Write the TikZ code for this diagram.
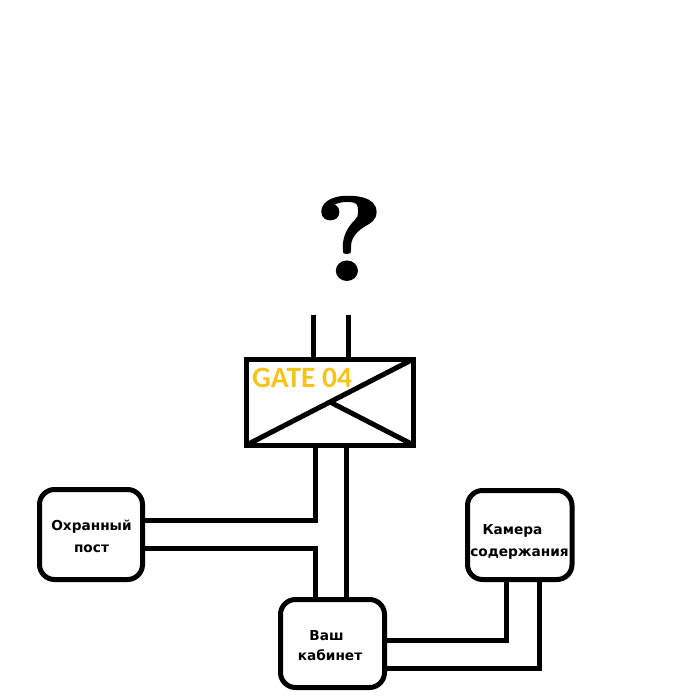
\documentclass[tikz,border=0pt]{standalone}
\usepackage{fontspec}
\newfontfamily\labelfont{DejaVu Sans}
\newfontfamily\gatefont{Carlito}
\newfontfamily\markfont{lmroman10-bold.otf}[FakeBold=1.6]
\usetikzlibrary{calc}
\definecolor{gategold}{RGB}{245,196,28}
\begin{document}
\begin{tikzpicture}[x=1pt,y=-1pt,
  wall/.style={line width=5pt},
  room/.style={draw,wall,rounded corners=15pt,inner sep=0pt,outer sep=0pt},
  roomlabel/.style={font=\labelfont\bfseries\fontsize{13.7}{13.7}\selectfont,anchor=base,inner sep=0pt}]
\useasboundingbox (0,0) rectangle (700,700);

% gate block and its cross
\node[draw,wall,inner sep=0pt,outer sep=0pt,minimum width=167pt,minimum height=86pt] (gate) at (330,402) {};
\draw[wall] (gate.south west) -- (gate.north east);
\draw[wall] ($(gate.south west)!0.5!(gate.north east)$) -- (gate.south east);
\node[font=\gatefont\bfseries\fontsize{29.5}{29.5}\selectfont,text=gategold,anchor=base west,inner sep=0pt] (gatetxt) at (252,387) {GATE 04};

% passage leading up to the unknown
\coordinate (upL) at (313.5,315);
\coordinate (upR) at (348.5,315);
\draw[wall] (upL) -- (upL |- gate.north);
\draw[wall] (upR) -- (upR |- gate.north);
\node[font=\markfont\fontsize{119}{119}\selectfont,anchor=base,inner sep=0pt,xscale=1.08] (unknown) at (349,280) {?};

% rooms
\node[room,minimum width=103pt,minimum height=90pt] (guard) at (91,534.5) {};
\node[room,minimum width=104pt,minimum height=88pt] (office) at (332.5,643.5) {};
\node[room,minimum width=104.5pt,minimum height=89pt] (cell) at (519.75,535) {};

\node[roomlabel] (guard1) at (91.5,530) {Охранный};
\node[roomlabel] (guard2) at (91.5,552) {пост};
\node[roomlabel] (office1) at (326.5,640) {Ваш};
\node[roomlabel] (office2) at (330,660) {кабинет};
\node[roomlabel] (cell1) at (512.5,534) {Камера};
\node[roomlabel] (cell2) at (519.5,556) {содержания};

% corridors
\draw[wall] (gate.south -| 315,0) |- (guard.east |- 0,520.5);
\draw[wall] (office.north -| 315,0) |- (guard.east |- 0,548.5);
\draw[wall] (gate.south -| 346,0) -- (office.north -| 346,0);
\draw[wall] (office.east |- 0,640) -| (cell.south -| 506,0);
\draw[wall] (office.east |- 0,668.5) -| (cell.south -| 539.5,0);
\end{tikzpicture}
\end{document}
